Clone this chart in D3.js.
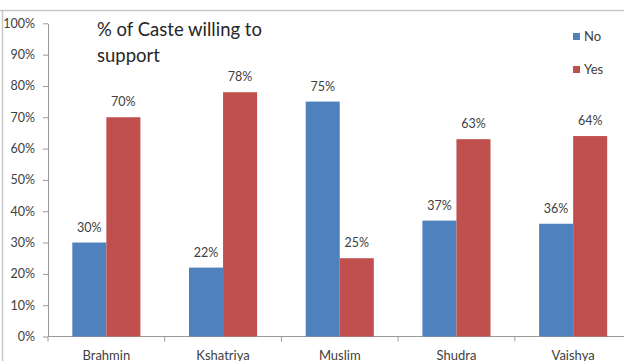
<!DOCTYPE html>
<html>
<head>
<meta charset="utf-8">
<script src="https://cdn.jsdelivr.net/npm/d3@7"></script>
<style>
  body { margin: 0; background: #fff; }
  svg { display: block; font-family: Lato, "Open Sans", sans-serif; }
</style>
</head>
<body>
<div id="chart"></div>
<script>
var castes = ["Brahmin", "Kshatriya", "Muslim", "Shudra", "Vaishya"];
var seriesNames = ["No", "Yes"];
var noValues = [30, 22, 75, 37, 36];
var yesValues = [70, 78, 25, 63, 64];
var yTicks = [0, 10, 20, 30, 40, 50, 60, 70, 80, 90, 100];
var colors = ["#4F81BD", "#C0504D"];

var width = 624, height = 361;
var svg = d3.select("#chart").append("svg")
    .attr("width", width)
    .attr("height", height);

// outer frame (top and left edges visible)
svg.append("line").attr("x1", 0).attr("x2", width).attr("y1", 10.5).attr("y2", 10.5)
    .attr("stroke", "#c8c8c8").attr("stroke-width", 1.5);
svg.append("line").attr("x1", 2.5).attr("x2", 2.5).attr("y1", 10).attr("y2", height)
    .attr("stroke", "#c8c8c8").attr("stroke-width", 1.5);

var plotLeft = 48, plotRight = 631.5, plotTop = 23.3, plotBottom = 336.5;

var x = d3.scaleBand().domain(castes).range([plotLeft, plotRight]);
var xs = d3.scaleBand().domain(seriesNames).range([0, x.bandwidth()]).paddingInner(0).paddingOuter(0.714);
var y = d3.scaleLinear().domain([0, 100]).range([plotBottom, plotTop]);

// y axis
var yAxis = svg.append("g")
    .attr("transform", "translate(" + plotLeft + ",0)")
    .call(d3.axisLeft(y).tickValues(yTicks).tickFormat(function (d) { return d + "%"; }).tickSize(5).tickSizeOuter(0));
yAxis.select(".domain").attr("stroke", "#9a9a9a");
yAxis.selectAll(".tick line").attr("stroke", "#9a9a9a");
yAxis.selectAll(".tick text").attr("x", -13).attr("fill", "#404040")
    .style("font-family", "Lato, 'Open Sans', sans-serif")
    .style("font-size", "12.5px");

// x axis
var xAxis = svg.append("g").attr("transform", "translate(0," + plotBottom + ")");
xAxis.append("line").attr("x1", plotLeft).attr("x2", plotRight).attr("stroke", "#9a9a9a");
xAxis.selectAll("line.tk").data(castes.concat(["end"])).enter().append("line")
    .attr("class", "tk")
    .attr("x1", function (d, i) { return plotLeft + i * x.step(); })
    .attr("x2", function (d, i) { return plotLeft + i * x.step(); })
    .attr("y1", 0).attr("y2", 5).attr("stroke", "#9a9a9a");
xAxis.selectAll("text").data(castes).enter().append("text")
    .attr("x", function (d) { return x(d) + x.bandwidth() / 2; })
    .attr("y", 23)
    .attr("text-anchor", "middle")
    .attr("fill", "#404040")
    .style("font-size", "13px")
    .text(function (d) { return d; });

// bars
var rows = castes.map(function (c, i) {
    return { caste: c, values: [{ key: "No", v: noValues[i] }, { key: "Yes", v: yesValues[i] }] };
});
var groups = svg.selectAll("g.grp").data(rows).enter().append("g")
    .attr("class", "grp")
    .attr("transform", function (d) { return "translate(" + x(d.caste) + ",0)"; });

groups.selectAll("rect").data(function (d) { return d.values; }).enter().append("rect")
    .attr("x", function (d) { return xs(d.key); })
    .attr("width", xs.bandwidth())
    .attr("y", function (d) { return y(d.v); })
    .attr("height", function (d) { return plotBottom - y(d.v); })
    .attr("fill", function (d, i) { return colors[i]; });

groups.selectAll("text").data(function (d) { return d.values; }).enter().append("text")
    .attr("x", function (d) { return xs(d.key) + xs.bandwidth() / 2; })
    .attr("y", function (d) { return y(d.v) - 11; })
    .attr("text-anchor", "middle")
    .attr("fill", "#404040")
    .style("font-size", "12.5px")
    .text(function (d) { return d.v + "%"; });

// title
var title = svg.append("text").attr("x", 97).attr("fill", "#262626").style("font-size", "18.5px");
title.append("tspan").attr("x", 97).attr("y", 36).text("% of Caste willing to");
title.append("tspan").attr("x", 97).attr("y", 62).text("support");

// legend
var legend = svg.selectAll("g.leg").data(seriesNames).enter().append("g")
    .attr("class", "leg")
    .attr("transform", function (d, i) { return "translate(573," + (33 + i * 33) + ")"; });
legend.append("rect").attr("width", 7).attr("height", 7)
    .attr("fill", function (d, i) { return colors[i]; });
legend.append("text").attr("x", 11).attr("y", 8)
    .attr("fill", "#404040").style("font-size", "13px")
    .text(function (d) { return d; });
</script>
</body>
</html>
